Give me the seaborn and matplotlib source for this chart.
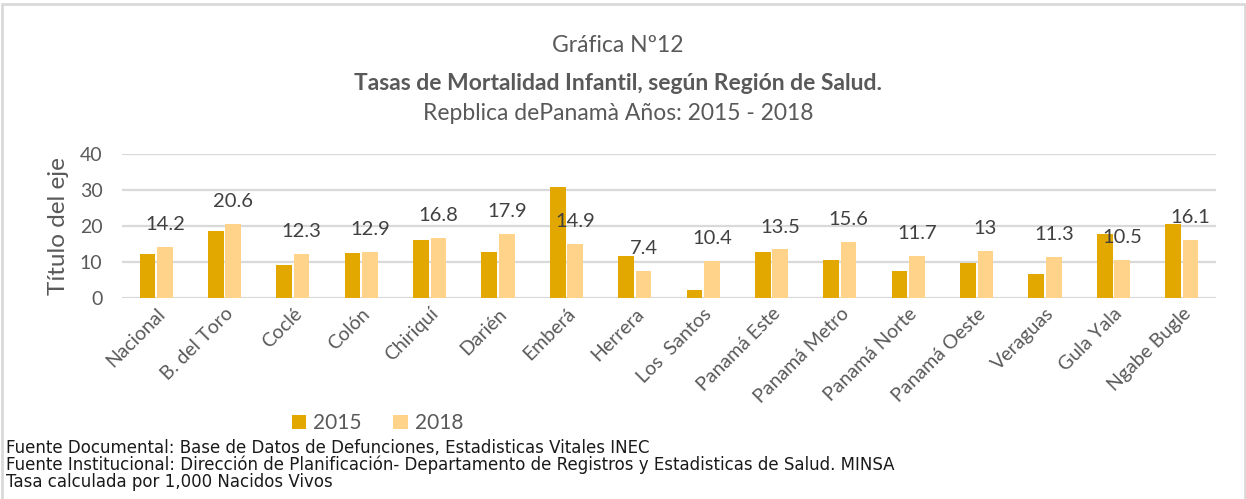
import matplotlib
matplotlib.use("Agg")
import matplotlib.pyplot as plt
import seaborn as sns
import pandas as pd
from matplotlib.patches import Patch, Rectangle

# --- data ---
regiones = ["Nacional", "B. del Toro", "Coclé", "Colón", "Chiriquí", "Darién",
            "Emberá", "Herrera", "Los  Santos", "Panamá Este", "Panamá Metro",
            "Panamá Norte", "Panamá Oeste", "Veraguas", "Gula Yala", "Ngabe Bugle"]
tasa_2015 = [12.2, 18.7, 9.1, 12.6, 16.2, 12.8, 30.8, 11.7, 2.3, 12.8, 10.6,
             7.6, 9.8, 6.8, 17.7, 20.6]
tasa_2018 = [14.2, 20.6, 12.3, 12.9, 16.8, 17.9, 14.9, 7.4, 10.4, 13.5, 15.6,
             11.7, 13.0, 11.3, 10.5, 16.1]
years = ["2015", "2018"]
colors = {"2015": "#E2A800", "2018": "#FFD389"}

df = pd.DataFrame({
    "Region": regiones * 2,
    "Tasa": tasa_2015 + tasa_2018,
    "Año": ["2015"] * len(regiones) + ["2018"] * len(regiones),
})

sns.set_theme(style="white")
plt.rcParams["font.family"] = ["Lato", "DejaVu Sans"]

GRAY = "#595959"
fig = plt.figure(figsize=(12.46, 4.99), dpi=100)
ax = fig.add_axes([0.0979, 0.4028, 0.8780, 0.2886])

sns.barplot(data=df, x="Region", y="Tasa", hue="Año", hue_order=years,
            palette=colors, width=0.51, gap=0.1, saturation=1, ax=ax,
            legend=False, edgecolor="none")

# labels only on the 2018 series, as in the original
ax.bar_label(ax.containers[1], fmt="%g", padding=10, fontsize=14.5, color="#404040")

ax.set_ylim(0, 40)
ax.set_yticks([0, 10, 20, 30, 40])
ax.set_xlim(-0.5, len(regiones) - 0.5)
ax.yaxis.grid(True, color="#d9d9d9", linewidth=1.6)
ax.set_axisbelow(True)
for s in ax.spines.values():
    s.set_visible(False)
ax.tick_params(axis="both", length=0)
ax.tick_params(axis="y", labelsize=14, labelcolor=GRAY, pad=14)
plt.setp(ax.get_xticklabels(), rotation=45, ha="right", rotation_mode="anchor",
         fontsize=14, color=GRAY)
ax.tick_params(axis="x", pad=5)
ax.set_xlabel("")
ax.set_ylabel("Título del eje", fontsize=17.5, color=GRAY, labelpad=8)

# titles
fig.text(0.496, 0.909, "Gráfica Nº12", ha="center", va="center", fontsize=16.5, color=GRAY)
fig.text(0.496, 0.832, "Tasas de Mortalidad Infantil, según Región de Salud.",
         ha="center", va="center", fontsize=16.5, color=GRAY, fontweight="bold")
fig.text(0.496, 0.772, "Repblica dePanamà Años: 2015 - 2018", ha="center",
         va="center", fontsize=16.5, color=GRAY)

# legend
handles = [Patch(facecolor=colors[y], edgecolor="none", label=y) for y in years]
fig.legend(handles=handles, loc="center", bbox_to_anchor=(0.303, 0.152),
           ncol=2, frameon=False, fontsize=15, handlelength=0.7,
           handleheight=0.7, handletextpad=0.35, columnspacing=1.5,
           labelcolor=GRAY)

# sources
notas = ["Fuente Documental: Base de Datos de Defunciones, Estadisticas Vitales INEC",
         "Fuente Institucional: Dirección de Planificación- Departamento de Registros y Estadisticas de Salud. MINSA",
         "Tasa calculada por 1,000 Nacidos Vivos"]
for i, t in enumerate(notas):
    fig.text(0.005, 0.102 - i * 0.034, t, ha="left", va="center",
             fontsize=12, color="#1a1a1a", family="DejaVu Sans")

# light border of the chart box
fig.patches.append(Rectangle((0.0016, -0.01), 0.9975, 1.002, transform=fig.transFigure,
                             fill=False, edgecolor="#d9d9d9", linewidth=2))

fig.savefig("out.png", dpi=100)
